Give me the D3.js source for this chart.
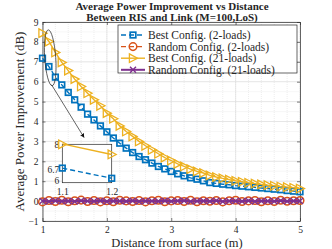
<!DOCTYPE html>
<html>
<head>
<meta charset="utf-8">
<script src="https://cdn.jsdelivr.net/npm/d3@7"></script>
<style>
  body { margin: 0; background: #fff; }
  svg, svg text { font-family: "Liberation Serif", "Times New Roman", "DejaVu Serif", serif !important; fill: #262626; }
</style>
</head>
<body>
<div id="chart"></div>
<script>
// distances (m)
var distance = d3.range(41).map(function(i) { return +(1 + i * 0.1).toFixed(1); });

var bestTwo = [7.18, 6.76, 6.23, 5.84, 5.46, 5.09, 4.72, 4.37, 4.08, 3.78,
  3.48, 3.17, 2.91, 2.66, 2.44, 2.24, 2.08, 1.91, 1.74, 1.62,
  1.49, 1.37, 1.27, 1.17, 1.10, 1.02, 0.93, 0.89, 0.85, 0.82,
  0.78, 0.75, 0.72, 0.69, 0.66, 0.63, 0.60, 0.57, 0.53, 0.50, 0.47];
var randTwo = [-0.04, 0.03, -0.02, 0.04, -0.03, 0.02, 0.05, -0.02, 0.03, -0.04,
  0.02, -0.03, 0.04, 0.01, -0.02, 0.03, -0.04, 0.02, 0.04, -0.03,
  0.01, 0.03, -0.02, 0.04, -0.03, 0.02, -0.01, 0.03, -0.04, 0.02,
  0.04, -0.02, 0.01, 0.03, -0.03, 0.02, -0.02, 0.04, -0.01, 0.02, 0.03];
var bestTwentyOne = [8.44, 8.02, 7.47, 6.97, 6.56, 6.13, 5.76, 5.42, 5.09, 4.79,
  4.42, 4.14, 3.78, 3.50, 3.25, 3.00, 2.78, 2.58, 2.38, 2.19,
  2.04, 1.87, 1.74, 1.61, 1.49, 1.41, 1.29, 1.21, 1.14, 1.08,
  1.02, 0.97, 0.92, 0.88, 0.84, 0.80, 0.77, 0.73, 0.70, 0.67, 0.63];
var randTwentyOne = [0.01, -0.02, 0.02, -0.01, 0.01, -0.02, 0.02, 0.00, -0.01, 0.02,
  -0.02, 0.01, 0.00, -0.01, 0.02, -0.02, 0.01, 0.00, -0.01, 0.02,
  -0.01, 0.01, 0.02, -0.02, 0.00, 0.01, -0.01, 0.02, -0.02, 0.01,
  0.00, -0.01, 0.02, -0.02, 0.01, 0.00, -0.01, 0.02, -0.01, 0.01, 0.00];

var xTicks = [1, 2, 3, 4, 5];
var yTicks = [-1, 0, 1, 2, 3, 4, 5, 6, 7, 8, 9];
var insetXTicks = [1.1, 1.2];
var insetYTicks = [6, 6.7, 8];

var series = [
  {name: 'Best Config. (2-loads)', values: bestTwo, color: '#0072BD', dash: '5,3', marker: 'square'},
  {name: 'Random Config. (2-loads)', values: randTwo, color: '#D95319', dash: '5,3', marker: 'circle'},
  {name: 'Best Config. (21-loads)', values: bestTwentyOne, color: '#EDB120', dash: null, marker: 'triangle'},
  {name: 'Random Config. (21-loads)', values: randTwentyOne, color: '#7E2F8E', dash: null, marker: 'cross'}
];

var fontFamily = '"Liberation Serif", "Times New Roman", "DejaVu Serif", serif';
var fullWidth = 332, fullHeight = 249;
var margin = {top: 22, right: 32, bottom: 28, left: 42.5};
var width = fullWidth - margin.left - margin.right;
var height = fullHeight - margin.top - margin.bottom;

var svg = d3.select('#chart').append('svg')
  .attr('width', fullWidth)
  .attr('height', fullHeight)
  .style('font-family', fontFamily);

var g = svg.append('g')
  .attr('transform', 'translate(' + margin.left + ',' + margin.top + ')');

var x = d3.scaleLinear().domain([1, 5]).range([0, width]);
var y = d3.scaleLinear().domain([-1, 9]).range([height, 0]);

// minor grid
var grid = g.append('g').classed('grid', true);
grid.selectAll('line.minor-x')
    .data(d3.range(1, 5.001, 0.2))
  .enter().append('line')
    .attr('x1', function(d) { return x(d); })
    .attr('x2', function(d) { return x(d); })
    .attr('y1', 0).attr('y2', height)
    .attr('stroke', '#e2e2e2').attr('stroke-width', 0.6)
    .attr('stroke-dasharray', '1,1');
grid.selectAll('line.minor-y')
    .data(d3.range(-1, 9.001, 0.5))
  .enter().append('line')
    .attr('y1', function(d) { return y(d); })
    .attr('y2', function(d) { return y(d); })
    .attr('x1', 0).attr('x2', width)
    .attr('stroke', '#e2e2e2').attr('stroke-width', 0.6)
    .attr('stroke-dasharray', '1,1');
// major grid
grid.selectAll('line.major-x')
    .data(xTicks)
  .enter().append('line')
    .attr('x1', function(d) { return x(d); })
    .attr('x2', function(d) { return x(d); })
    .attr('y1', 0).attr('y2', height)
    .attr('stroke', '#dcdcdc').attr('stroke-width', 0.6);
grid.selectAll('line.major-y')
    .data(yTicks)
  .enter().append('line')
    .attr('y1', function(d) { return y(d); })
    .attr('y2', function(d) { return y(d); })
    .attr('x1', 0).attr('x2', width)
    .attr('stroke', '#dcdcdc').attr('stroke-width', 0.6);

// axes
var xAxis = d3.axisBottom(x).tickValues(xTicks).tickSize(-3).tickSizeOuter(0).tickPadding(5)
  .tickFormat(d3.format('d'));
var yAxis = d3.axisLeft(y).tickValues(yTicks).tickSize(-3).tickSizeOuter(0).tickPadding(4)
  .tickFormat(d3.format('d'));

function styleAxis(sel) {
  sel.attr('font-family', fontFamily);
  sel.select('.domain').attr('stroke', '#262626').attr('stroke-width', 0.7);
  sel.selectAll('.tick line').attr('stroke', '#262626').attr('stroke-width', 0.6);
  sel.selectAll('.tick text').style('font-size', '9.5px').attr('fill', '#262626');
}

g.append('g').attr('transform', 'translate(0,' + height + ')').call(xAxis).call(styleAxis);
g.append('g').call(yAxis).call(styleAxis);
g.append('g').call(d3.axisTop(x).tickValues(xTicks).tickSize(-3).tickSizeOuter(0).tickFormat(''))
  .call(styleAxis);
g.append('g').attr('transform', 'translate(' + width + ',0)')
  .call(d3.axisRight(y).tickValues(yTicks).tickSize(-3).tickSizeOuter(0).tickFormat(''))
  .call(styleAxis);

// marker drawing
function drawMarker(sel, type, color) {
  if (type === 'square') {
    sel.append('rect').attr('x', -2.8).attr('y', -2.8)
      .attr('width', 5.6).attr('height', 5.6)
      .attr('fill', 'none').attr('stroke', color).attr('stroke-width', 1.7);
  } else if (type === 'circle') {
    sel.append('circle').attr('r', 3.8)
      .attr('fill', 'none').attr('stroke', color).attr('stroke-width', 1.5);
  } else if (type === 'triangle') {
    sel.append('path')
      .attr('d', 'M-3.6,-4.3L4.5,0L-3.6,4.3Z')
      .attr('fill', 'none').attr('stroke', color).attr('stroke-width', 1.3);
  } else if (type === 'cross') {
    sel.append('path')
      .attr('d', 'M-3,-3L3,3M-3,3L3,-3')
      .attr('fill', 'none').attr('stroke', color).attr('stroke-width', 1.4);
  }
}

var clipId = 'plot-clip';
g.append('clipPath').attr('id', clipId).append('rect')
  .attr('x', -6).attr('y', -6).attr('width', width + 12).attr('height', height + 6);

var plotArea = g.append('g').attr('clip-path', 'url(#' + clipId + ')');

series.forEach(function(s) {
  var pts = distance.map(function(d, i) { return [d, s.values[i]]; });
  var line = d3.line()
    .x(function(d) { return x(d[0]); })
    .y(function(d) { return y(d[1]); });
  plotArea.append('path')
    .datum(pts)
    .attr('d', line)
    .attr('fill', 'none')
    .attr('stroke', s.color)
    .attr('stroke-width', s.marker === 'cross' ? 2.2 : 1.4)
    .attr('stroke-dasharray', s.dash);
  plotArea.selectAll(null)
      .data(pts)
    .enter().append('g')
      .attr('transform', function(d) { return 'translate(' + x(d[0]) + ',' + y(d[1]) + ')'; })
      .each(function() { drawMarker(d3.select(this), s.marker, s.color); });
});

// ellipse marking the zoomed region
g.append('ellipse')
  .attr('cx', x(1.12)).attr('cy', y(7.2))
  .attr('rx', 5.5).attr('ry', 28)
  .attr('transform', 'rotate(-4,' + x(1.12) + ',' + y(7.2) + ')')
  .attr('fill', 'none').attr('stroke', '#222').attr('stroke-width', 0.7);

svg.append('defs').append('marker')
  .attr('id', 'arrow').attr('viewBox', '0 0 10 10')
  .attr('refX', 9).attr('refY', 5)
  .attr('markerWidth', 6).attr('markerHeight', 6)
  .attr('orient', 'auto')
  .append('path').attr('d', 'M0,0L10,5L0,10Z').attr('fill', '#111');

g.append('line')
  .attr('x1', x(1.14)).attr('y1', y(5.85))
  .attr('x2', x(1.645)).attr('y2', y(3.2))
  .attr('stroke', '#222').attr('stroke-width', 0.7)
  .attr('marker-end', 'url(#arrow)');

// inset
var inset = {left: 62.3, top: 144.3, width: 49.4, height: 38.4};
var ix = d3.scaleLinear().domain([1.1, 1.2]).range([0, inset.width]);
var iy = d3.scaleLinear().domain([6, 8]).range([inset.height, 0]);
var ig = svg.append('g').attr('transform', 'translate(' + inset.left + ',' + inset.top + ')');
ig.append('rect').attr('width', inset.width).attr('height', inset.height)
  .attr('fill', '#fff').attr('stroke', '#262626').attr('stroke-width', 0.7);

ig.append('g').attr('transform', 'translate(0,' + inset.height + ')')
  .call(d3.axisBottom(ix).tickValues(insetXTicks).tickSize(0).tickPadding(6).tickFormat(d3.format('.1f')))
  .call(styleAxis).call(function(a) { a.select('.domain').remove(); });
ig.append('g')
  .call(d3.axisLeft(iy).tickValues(insetYTicks).tickSize(0).tickPadding(3).tickFormat(function(d) { return d; }))
  .call(styleAxis).call(function(a) {
    a.select('.domain').remove();
    a.selectAll('.tick text').filter(function(d) { return d === 6; }).attr('dy', '0.1em');
  });

[series[0], series[2]].forEach(function(s) {
  var pts = distance.slice(1, 3).map(function(d, i) { return [d, s.values[i + 1]]; });
  ig.append('path')
    .datum(pts)
    .attr('d', d3.line().x(function(d) { return ix(d[0]); }).y(function(d) { return iy(d[1]); }))
    .attr('fill', 'none').attr('stroke', s.color).attr('stroke-width', 1.4)
    .attr('stroke-dasharray', s.dash);
  ig.selectAll(null)
      .data(pts)
    .enter().append('g')
      .attr('transform', function(d) { return 'translate(' + ix(d[0]) + ',' + iy(Math.min(d[1], 8)) + ')'; })
      .each(function() { drawMarker(d3.select(this), s.marker, s.color); });
});

// legend
var legend = svg.append('g').attr('transform', 'translate(118,25)');
legend.append('rect').attr('width', 179).attr('height', 48)
  .attr('fill', '#fff').attr('stroke', '#262626').attr('stroke-width', 0.7);
series.forEach(function(s, i) {
  var row = legend.append('g').attr('transform', 'translate(0,' + (10 + i * 11.6) + ')');
  row.append('line').attr('x1', 3).attr('x2', 27).attr('y1', 0).attr('y2', 0)
    .attr('stroke', s.color).attr('stroke-width', s.marker === 'cross' ? 2 : 1.4)
    .attr('stroke-dasharray', s.dash ? '5,3' : null);
  var m = row.append('g').attr('transform', 'translate(15,0)');
  drawMarker(m, s.marker, s.color);
  row.append('text').attr('x', 30).attr('y', 4)
    .style('font-size', '11.5px').text(s.name);
});

// titles
svg.append('text').attr('x', 172).attr('y', 10).attr('text-anchor', 'middle')
  .style('font-size', '11px').style('font-weight', 'bold')
  .text('Average Power Improvement vs Distance');
svg.append('text').attr('x', 172).attr('y', 21).attr('text-anchor', 'middle')
  .style('font-size', '11px').style('font-weight', 'bold')
  .text('Between RIS and Link (M=100,LoS)');

svg.append('text')
  .attr('transform', 'translate(24,' + (margin.top + height / 2) + ') rotate(-90)')
  .attr('text-anchor', 'middle')
  .style('font-size', '13px')
  .text('Average Power Improvement (dB)');

svg.append('text').attr('x', 177).attr('y', 247).attr('text-anchor', 'middle')
  .style('font-size', '12.5px')
  .text('Distance from surface (m)');
</script>
</body>
</html>
